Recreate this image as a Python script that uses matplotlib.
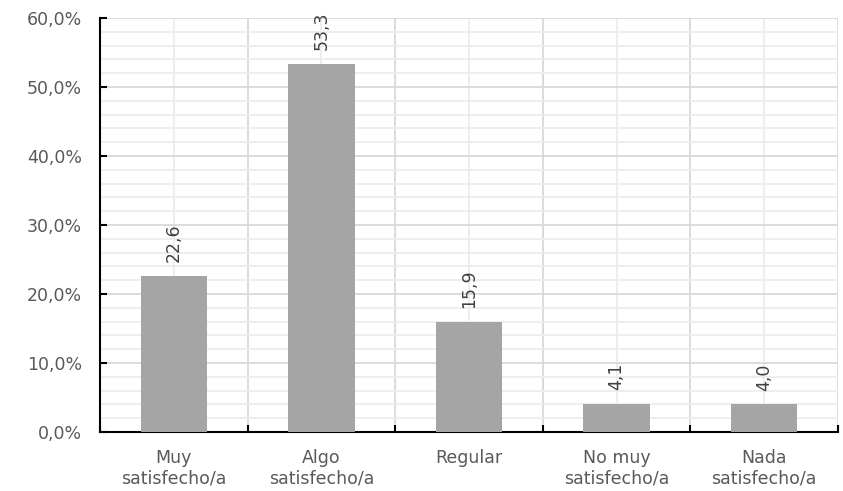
import numpy as np
import matplotlib.pyplot as plt
from matplotlib.ticker import MultipleLocator, FuncFormatter

categories = ["Muy\nsatisfecho/a", "Algo\nsatisfecho/a", "Regular",
              "No muy\nsatisfecho/a", "Nada\nsatisfecho/a"]
values = [22.6, 53.3, 15.9, 4.1, 4.0]

plt.rcParams['font.family'] = ['DejaVu Sans']
text_col = "#595959"

fig = plt.figure(figsize=(8.43, 4.91), dpi=100)
ax = fig.add_axes([100 / 843, 59 / 491, 738 / 843, 414 / 491])

x = np.arange(len(categories))
ax.bar(x, values, width=0.45, color="#A5A5A5", zorder=3)

for xi, v in zip(x, values):
    ax.annotate(f"{v:.1f}".replace(".", ","), (xi, v), xytext=(0, 10),
                textcoords="offset points", rotation=90, ha="center", va="bottom",
                fontsize=12.5, color="#404040")

ax.set_xlim(-0.5, len(categories) - 0.5)
ax.set_ylim(0, 60)

ax.yaxis.set_major_locator(MultipleLocator(10))
ax.yaxis.set_minor_locator(MultipleLocator(2))
ax.yaxis.set_major_formatter(FuncFormatter(lambda v, p: f"{v:.1f}%".replace(".", ",")))

# category boundaries as major x ticks, centres as minor
ax.set_xticks(np.arange(-0.5, len(categories), 1.0))
ax.set_xticklabels([])
ax.set_xticks(x, minor=True)
ax.set_xticklabels(categories, minor=True)

ax.grid(which="major", color="#D9D9D9", linewidth=1.3, zorder=0)
ax.grid(which="minor", color="#EDEDED", linewidth=1.3, zorder=0)

ax.tick_params(axis="y", which="major", direction="in", length=5, width=1.5,
               labelsize=12.5, labelcolor=text_col, pad=13)
ax.tick_params(axis="y", which="minor", length=0)
ax.tick_params(axis="x", which="major", direction="in", length=5, width=1.5)
ax.tick_params(axis="x", which="minor", length=0, labelsize=12.5,
               labelcolor=text_col, pad=12)

for s in ["top", "right"]:
    ax.spines[s].set_visible(False)
for s in ["left", "bottom"]:
    ax.spines[s].set_linewidth(1.5)
    ax.spines[s].set_color("black")

fig.savefig("out.png", dpi=100)
